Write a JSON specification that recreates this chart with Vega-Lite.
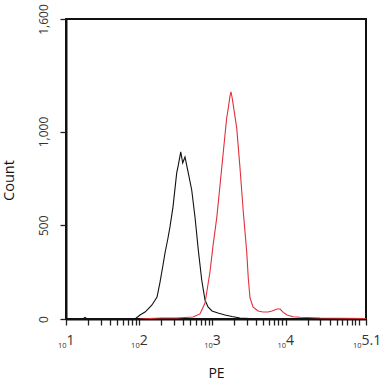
{
  "$schema": "https://vega.github.io/schema/vega-lite/v6.json",
  "width": 300,
  "height": 300,
  "autosize": "none",
  "padding": {"left": 66, "top": 19, "right": 14, "bottom": 65},
  "data": {"values": [
    {"s": "control", "pe": 10, "count": 0},
    {"s": "control", "pe": 17, "count": 0},
    {"s": "control", "pe": 18.2, "count": 8},
    {"s": "control", "pe": 19.5, "count": 0},
    {"s": "control", "pe": 87.7, "count": 0},
    {"s": "control", "pe": 102.6, "count": 21},
    {"s": "control", "pe": 120.2, "count": 37},
    {"s": "control", "pe": 132.1, "count": 53},
    {"s": "control", "pe": 149.6, "count": 75},
    {"s": "control", "pe": 175.4, "count": 117},
    {"s": "control", "pe": 192.8, "count": 197},
    {"s": "control", "pe": 211.8, "count": 288},
    {"s": "control", "pe": 225.4, "count": 352},
    {"s": "control", "pe": 247.7, "count": 432},
    {"s": "control", "pe": 263.6, "count": 491},
    {"s": "control", "pe": 289.7, "count": 597},
    {"s": "control", "pe": 325.8, "count": 779},
    {"s": "control", "pe": 342.8, "count": 821},
    {"s": "control", "pe": 369.8, "count": 891},
    {"s": "control", "pe": 393.6, "count": 832},
    {"s": "control", "pe": 422.7, "count": 864},
    {"s": "control", "pe": 468.8, "count": 779},
    {"s": "control", "pe": 522.4, "count": 688},
    {"s": "control", "pe": 579.4, "count": 544},
    {"s": "control", "pe": 642.7, "count": 368},
    {"s": "control", "pe": 716.1, "count": 208},
    {"s": "control", "pe": 794.3, "count": 101},
    {"s": "control", "pe": 873.0, "count": 64},
    {"s": "control", "pe": 988.6, "count": 43},
    {"s": "control", "pe": 1194, "count": 32},
    {"s": "control", "pe": 1489, "count": 21},
    {"s": "control", "pe": 1858, "count": 13},
    {"s": "control", "pe": 2388, "count": 5},
    {"s": "control", "pe": 4477, "count": 0},
    {"s": "sample", "pe": 102.6, "count": 0},
    {"s": "sample", "pe": 140.6, "count": 3},
    {"s": "sample", "pe": 200, "count": 5},
    {"s": "sample", "pe": 325.8, "count": 5},
    {"s": "sample", "pe": 544.5, "count": 11},
    {"s": "sample", "pe": 677.6, "count": 27},
    {"s": "sample", "pe": 794.3, "count": 85},
    {"s": "sample", "pe": 929, "count": 252},
    {"s": "sample", "pe": 1021, "count": 390},
    {"s": "sample", "pe": 1148, "count": 539},
    {"s": "sample", "pe": 1274, "count": 715},
    {"s": "sample", "pe": 1413, "count": 892},
    {"s": "sample", "pe": 1570, "count": 1072},
    {"s": "sample", "pe": 1652, "count": 1125},
    {"s": "sample", "pe": 1742, "count": 1189},
    {"s": "sample", "pe": 1799, "count": 1211},
    {"s": "sample", "pe": 1858, "count": 1184},
    {"s": "sample", "pe": 1932, "count": 1141},
    {"s": "sample", "pe": 2153, "count": 1019},
    {"s": "sample", "pe": 2388, "count": 805},
    {"s": "sample", "pe": 2649, "count": 571},
    {"s": "sample", "pe": 2951, "count": 357},
    {"s": "sample", "pe": 3097, "count": 219},
    {"s": "sample", "pe": 3273, "count": 112},
    {"s": "sample", "pe": 3597, "count": 64},
    {"s": "sample", "pe": 4207, "count": 43},
    {"s": "sample", "pe": 4920, "count": 37},
    {"s": "sample", "pe": 5768, "count": 37},
    {"s": "sample", "pe": 6531, "count": 43},
    {"s": "sample", "pe": 7656, "count": 53},
    {"s": "sample", "pe": 8414, "count": 53},
    {"s": "sample", "pe": 9333, "count": 35},
    {"s": "sample", "pe": 10471, "count": 21},
    {"s": "sample", "pe": 12647, "count": 12},
    {"s": "sample", "pe": 15776, "count": 9},
    {"s": "sample", "pe": 29580, "count": 5},
    {"s": "sample", "pe": 125892.5, "count": 3}
  ]},
  "layer": [
    {
      "transform": [{"filter": "datum.s === 'control'"}],
      "mark": {"type": "line", "color": "#111111", "strokeWidth": 1.1, "clip": true},
      "encoding": {
        "x": {
          "field": "pe", "type": "quantitative",
          "scale": {"type": "log", "domain": [10, 125892.5], "nice": false},
          "axis": {
            "orient": "bottom",
            "title": null,
            "values": [10,20,30,40,50,60,70,80,90,100,200,300,400,500,600,700,800,900,1000,2000,3000,4000,5000,6000,7000,8000,9000,10000,20000,30000,40000,50000,60000,70000,80000,90000,100000,125892.5],
            "labelExpr": "indexof([10,100,1000,10000,125892.5], datum.value) >= 0 ? '10' : ''",
            "labelFontSize": 7.5,
            "labelAlign": "right",
            "labelBaseline": "alphabetic",
            "labelDx": -2.5,
            "labelOffset": {"condition": {"test": "datum.value > 100000", "value": -5}, "value": 0},
            "labelPadding": 22,
            "labelOverlap": false,
            "labelFlush": false,
            "labelBound": false,
            "tickSize": 6,
            "tickWidth": 1.3,
            "tickColor": "#222222",
            "domainWidth": 2,
            "domainColor": "#111111",
            "grid": false
          }
        },
        "y": {
          "field": "count", "type": "quantitative",
          "scale": {"domain": [0, 1600], "nice": false},
          "axis": {
            "title": "Count",
            "values": [0, 500, 1000, 1600],
            "format": ",d",
            "labelAngle": -90,
            "labelAlign": "center",
            "labelBaseline": "bottom",
            "labelPadding": 10,
            "labelFontSize": 12,
            "tickSize": 6,
            "tickWidth": 1.3,
            "tickColor": "#222222",
            "domainWidth": 2,
            "domainColor": "#111111",
            "titlePadding": 21,
            "titleY": 161,
            "titleFontSize": 14.5,
            "grid": false
          }
        }
      }
    },
    {
      "transform": [{"filter": "datum.s === 'sample'"}],
      "mark": {"type": "line", "color": "#e0303c", "strokeWidth": 1.1, "clip": true},
      "encoding": {
        "x": {
          "field": "pe", "type": "quantitative",
          "axis": {
            "orient": "bottom",
            "title": "PE",
            "values": [10, 100, 1000, 10000, 125892.5],
            "labelExpr": "datum.value > 100000 ? '5.1' : '' + round(log(datum.value) / LN10)",
            "labelFontSize": 14,
            "labelAlign": "left",
            "labelBaseline": "alphabetic",
            "labelDx": -2,
            "labelOffset": {"condition": {"test": "datum.value > 100000", "value": -5}, "value": 0},
            "labelPadding": 25,
            "labelOverlap": false,
            "labelFlush": false,
            "labelBound": false,
            "ticks": false,
            "domain": false,
            "tickSize": 6,
            "titleFontSize": 14,
            "titlePadding": 19,
            "grid": false
          }
        },
        "y": {"field": "count", "type": "quantitative"}
      }
    }
  ],
  "resolve": {"axis": {"x": "independent"}},
  "config": {
    "view": {"stroke": "#111111", "strokeWidth": 2},
    "font": "Open Sans",
    "axis": {
      "labelFont": "Open Sans",
      "titleFont": "Open Sans",
      "labelColor": "#333333",
      "titleColor": "#111111",
      "titleFontWeight": "normal"
    }
  }
}
